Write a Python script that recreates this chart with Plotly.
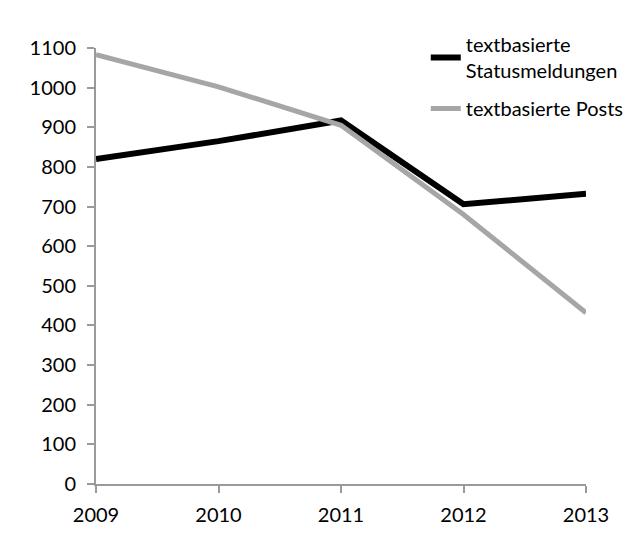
import plotly.graph_objects as go

jahre = [2009, 2010, 2011, 2012, 2013]
statusmeldungen = [820, 865, 917, 706, 732]
posts = [1083, 1002, 905, 680, 432]

schrift = dict(family="Lato, 'Open Sans', sans-serif", size=20, color="black")

fig = go.Figure()
fig.add_trace(go.Scatter(
    x=jahre, y=statusmeldungen, mode="lines",
    name="textbasierte<br>Statusmeldungen", legendgroup="a",
    line=dict(color="black", width=6)))
fig.add_trace(go.Scatter(
    x=jahre, y=posts, mode="lines",
    name="textbasierte Posts", legendgroup="b",
    line=dict(color="#a6a6a6", width=5)))

# Seite hat 8px body-margin, daher Ränder entsprechend kleiner
fig.update_layout(
    width=641, height=547,
    margin=dict(l=88, r=63, t=40, b=71),
    paper_bgcolor="white", plot_bgcolor="white",
    font=schrift,
    legend=dict(x=0.673, y=1.053, xanchor="left", yanchor="top",
                bgcolor="rgba(0,0,0,0)", font=schrift, tracegroupgap=9),
)
fig.update_xaxes(
    range=[2009, 2013], tickvals=jahre, showgrid=False, zeroline=False,
    showline=True, linecolor="#9a9a9a", linewidth=2,
    ticks="outside", tickcolor="#9a9a9a", ticklen=7, tickwidth=2,
    ticklabelstandoff=5)
fig.update_yaxes(
    range=[0, 1100], dtick=100, showgrid=False, zeroline=False,
    showline=True, linecolor="#9a9a9a", linewidth=2,
    ticks="outside", tickcolor="#9a9a9a", ticklen=7, tickwidth=2,
    ticklabelstandoff=7)

fig.write_html("out.html")
